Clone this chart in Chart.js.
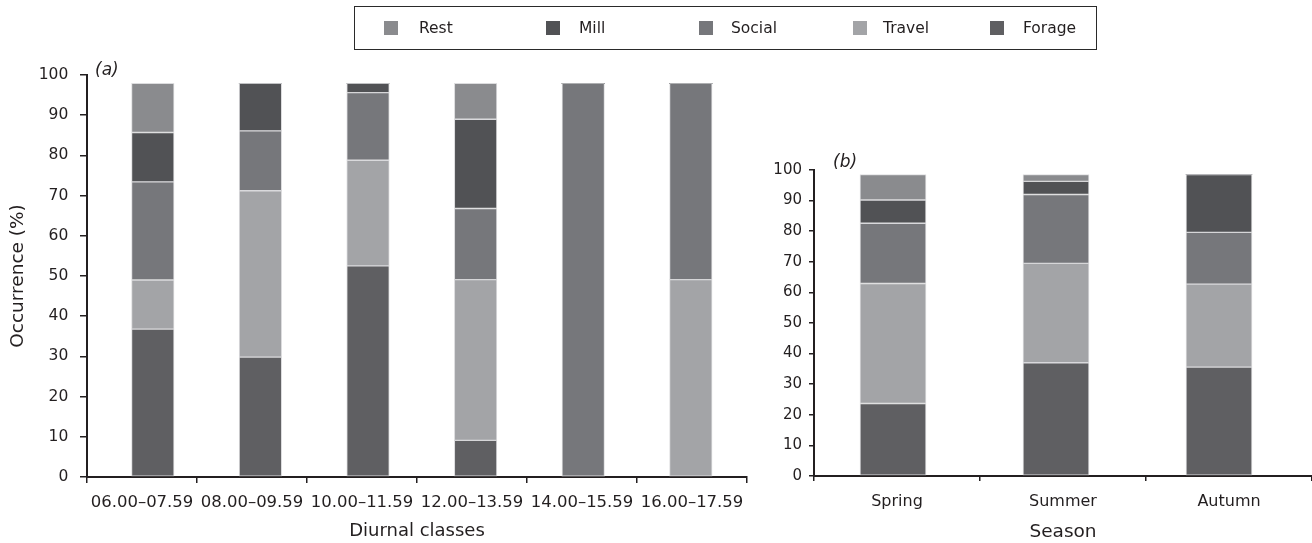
<!DOCTYPE html>
<html>
<head>
<meta charset="utf-8">
<script src="https://cdn.jsdelivr.net/npm/chart.js@4.4.1/dist/chart.umd.min.js"></script>
<style>
  html, body { margin:0; padding:0; background:#fff; }
  body { width:1312px; height:543px; overflow:hidden; position:relative; font-family:'DejaVu Sans', sans-serif; color:#231f20; }
  #wrapA { position:absolute; left:0; top:0; width:760px; height:543px; }
  #wrapB { position:absolute; left:740px; top:0; width:572px; height:543px; }
  #legend { position:absolute; left:354px; top:6px; width:741px; height:42px; border:1.5px solid #2a2a2a; }
  .sw { position:absolute; width:14px; height:14px; top:14px; }
  .lt { position:absolute; top:11px; font-size:15.5px; line-height:20px; white-space:nowrap; }
  .panel { position:absolute; font-style:italic; font-size:17px; line-height:20px; }
</style>
</head>
<body>
<div id="wrapA"><canvas id="ca" width="760" height="543"></canvas></div>
<div id="wrapB"><canvas id="cb" width="572" height="543"></canvas></div>
<div id="legend"></div>
<div class="panel" style="left:95px;top:59px;">(a)</div>
<div class="panel" style="left:833px;top:151px;">(b)</div>
<script>
// ---------- data ----------
const diurnalLabels = ['06.00–07.59','08.00–09.59','10.00–11.59','12.00–13.59','14.00–15.59','16.00–17.59'];
const seasonLabels  = ['Spring','Summer','Autumn'];
const seriesNames   = ['Forage','Travel','Social','Mill','Rest'];   // bottom to top

const diurnalForage = [36.8, 29.8, 52.5,  9.1,  0.0,  0.0];
const diurnalTravel = [12.2, 41.4, 26.3, 40.0,  0.0, 49.1];
const diurnalSocial = [24.4, 14.9, 16.8, 17.7, 97.9, 48.8];
const diurnalMill   = [12.3, 11.8,  2.3, 22.2,  0.0,  0.0];
const diurnalRest   = [12.2,  0.0,  0.0,  8.9,  0.0,  0.0];

const seasonForage = [23.7, 37.0, 35.6];
const seasonTravel = [39.2, 32.5, 27.1];
const seasonSocial = [19.7, 22.5, 16.9];
const seasonMill   = [ 7.6,  4.3, 18.9];
const seasonRest   = [ 8.3,  2.2,  0.0];

const yTickValues = [0,10,20,30,40,50,60,70,80,90,100];

// ---------- styles ----------
const seriesColors = { Forage:'#5f5f62', Travel:'#a3a4a7', Social:'#76777b', Mill:'#515255', Rest:'#8a8b8e' };
const legendOrder = seriesNames.slice().reverse();
const legendPos = [ [29,64], [191,224], [344,376], [498,528], [635,668] ]; // swatch x, text x (relative to legend box)
const axisColor = '#231f20';

Chart.defaults.font.family = "'DejaVu Sans', sans-serif";
Chart.defaults.color = axisColor;
Chart.defaults.animation = false;

// legend
const lg = document.getElementById('legend');
legendOrder.forEach((name, i) => {
  const s = document.createElement('div');
  s.className = 'sw'; s.style.left = legendPos[i][0] + 'px'; s.style.background = seriesColors[name];
  const t = document.createElement('div');
  t.className = 'lt'; t.style.left = legendPos[i][1] + 'px'; t.textContent = name;
  lg.appendChild(s); lg.appendChild(t);
});

function makeDatasets(arrays, thickness) {
  return seriesNames.map((name, k) => ({
    label: name,
    data: arrays[k].map((v, i) => ({ x: i, y: v })),
    backgroundColor: seriesColors[name],
    borderColor: 'rgba(205,205,208,0.7)',
    borderWidth: c => (c.raw && c.raw.y > 0 ? 1 : 0),
    borderSkipped: false,
    barThickness: thickness,
    xAxisID: 'xb',
    yAxisID: 'y'
  }));
}

function yScale(fontSize, tickLen, pad, width, titleText) {
  return {
    type: 'linear', stacked: true, min: 0, max: 100,
    afterBuildTicks: s => { s.ticks = yTickValues.map(v => ({ value: v })); },
    afterFit: s => { s.width = width; },
    grid: { drawOnChartArea: false, drawTicks: true, tickLength: tickLen, color: axisColor, lineWidth: 1.5 },
    border: { display: true, color: axisColor, width: 2 },
    ticks: { font: { size: fontSize }, padding: pad, color: axisColor },
    title: titleText ? { display: true, text: titleText, font: { size: 18.5 }, padding: { top: 7.4, bottom: 0 }, color: axisColor } : { display: false }
  };
}

// ---------- panel (a) ----------
new Chart(document.getElementById('ca'), {
  type: 'bar',
  data: { datasets: makeDatasets([diurnalForage, diurnalTravel, diurnalSocial, diurnalMill, diurnalRest], 42.5) },
  options: {
    responsive: false,
    layout: { padding: { top: 75, right: 13, bottom: 0, left: 0 } },
    plugins: { legend: { display: false }, tooltip: { enabled: false } },
    scales: {
      x: {
        type: 'category', labels: diurnalLabels, offset: true, position: 'bottom',
        afterFit: s => { s.height = 66; },
        grid: { offset: true, drawOnChartArea: false, drawTicks: true, tickLength: 6, color: axisColor, lineWidth: 1.5 },
        border: { display: true, color: axisColor, width: 2 },
        ticks: { font: { size: 16.5 }, padding: 10, maxRotation: 0, autoSkip: false, color: axisColor },
        title: { display: true, text: 'Diurnal classes', font: { size: 18 }, padding: { top: 0, bottom: 0.5 }, color: axisColor }
      },
      xb: { type: 'linear', display: false, offset: false, stacked: true, min: -0.6115, max: 5.522 },
      y: yScale(15.5, 7, 11.7, 87, 'Occurrence (%)')
    }
  }
});

// ---------- panel (b) ----------
new Chart(document.getElementById('cb'), {
  type: 'bar',
  data: { datasets: makeDatasets([seasonForage, seasonTravel, seasonSocial, seasonMill, seasonRest], 66) },
  options: {
    responsive: false,
    layout: { padding: { top: 170, right: 0, bottom: 0, left: 0 } },
    plugins: { legend: { display: false }, tooltip: { enabled: false } },
    scales: {
      x: {
        type: 'category', labels: seasonLabels, offset: true, position: 'bottom',
        afterFit: s => { s.height = 67; },
        grid: { offset: true, drawOnChartArea: false, drawTicks: true, tickLength: 5,
                color: c => (c.index === seasonLabels.length ? 'rgba(0,0,0,0)' : axisColor), lineWidth: 1.5 },
        border: { display: true, color: axisColor, width: 2 },
        ticks: { font: { size: 16 }, padding: 11, maxRotation: 0, autoSkip: false, color: axisColor },
        title: { display: true, text: 'Season', font: { size: 18.5 }, padding: { top: 0, bottom: 0 }, color: axisColor }
      },
      xb: { type: 'linear', display: false, offset: false, stacked: true, min: -0.4847, max: 2.5706 },
      y: yScale(15, 5, 7, 74, null)
    }
  }
});
</script>
</body>
</html>
